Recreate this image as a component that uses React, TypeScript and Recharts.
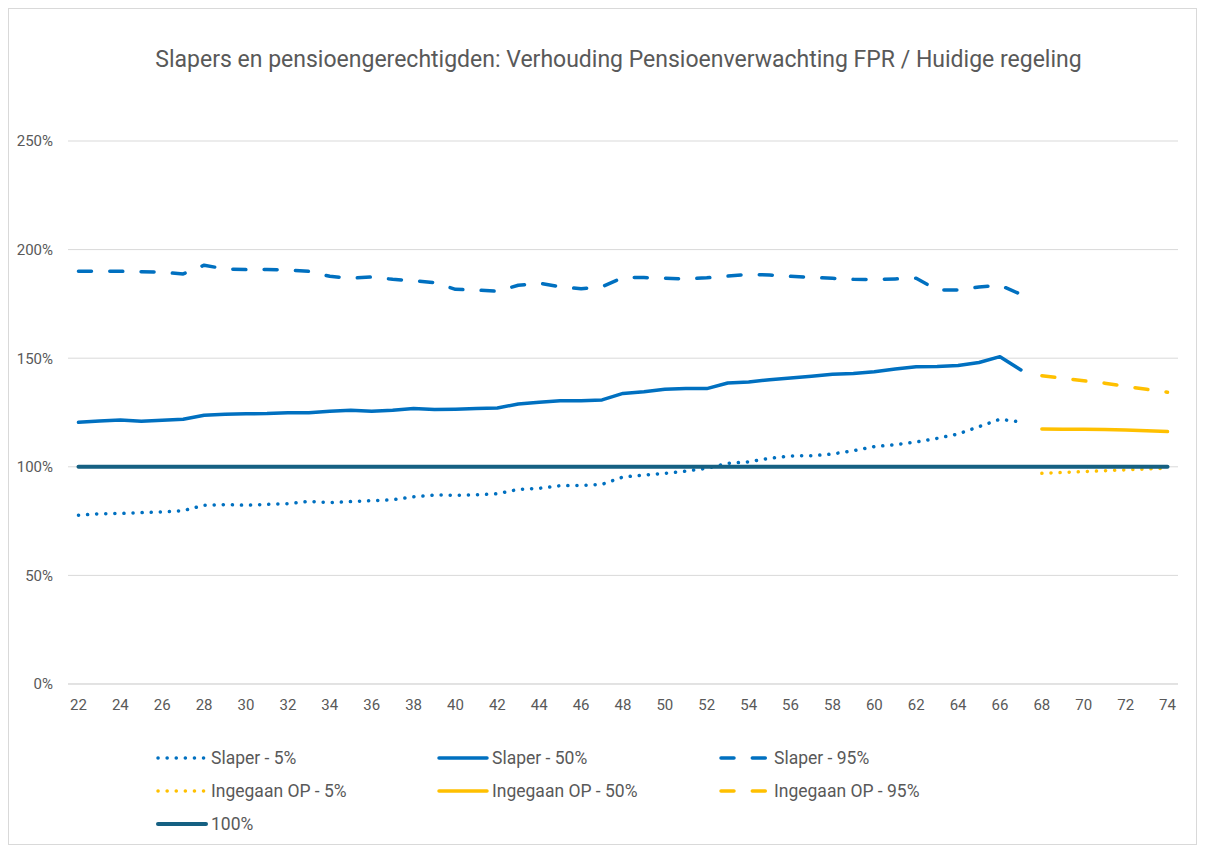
import React from "react";
import { LineChart, Line, XAxis, YAxis, CartesianGrid, Legend } from "recharts";

const ages: number[] = [];
for (let a = 22; a <= 74; a++) ages.push(a);

const slaperAges = [22,23,24,25,26,27,28,29,30,31,32,33,34,35,36,37,38,39,40,41,42,43,44,45,46,47,48,49,50,51,52,53,54,55,56,57,58,59,60,61,62,63,64,65,66,67];
const slaper5 = [77.7,78.4,78.5,78.9,79.2,79.8,82.3,82.6,82.3,82.7,83.0,84.1,83.5,84.0,84.4,84.8,86.2,87.0,86.9,87.1,87.6,89.6,90.1,91.3,91.4,91.9,95.3,96.2,97.0,98.0,99.3,101.6,102.3,103.9,105.0,105.1,105.9,107.4,109.3,110.2,111.4,113.1,115.1,118.5,121.9,120.6];
const slaper50 = [120.5,121.1,121.5,121.0,121.4,121.9,123.7,124.2,124.4,124.5,124.9,124.9,125.6,126.0,125.6,126.0,126.8,126.4,126.5,126.8,127.1,128.9,129.7,130.4,130.4,130.8,133.8,134.6,135.7,136.0,136.0,138.6,139.0,140.1,140.9,141.7,142.6,143.0,143.8,145.0,146.1,146.2,146.6,148.0,150.7,144.6];
const slaper95 = [190.0,190.0,190.0,189.8,189.6,188.8,192.8,191.1,190.8,190.8,190.6,190.0,187.7,186.8,187.4,186.3,185.7,184.8,181.7,181.4,180.8,183.6,184.5,182.9,182.0,182.9,187.1,187.1,186.8,186.5,187.0,187.8,188.6,188.3,187.7,187.2,186.8,186.3,186.2,186.5,186.8,181.4,181.4,182.8,183.6,179.4];

const opAges = [68,69,70,71,72,73,74];
const op5 = [97.0,97.4,97.8,98.2,98.6,99.0,99.3];
const op50 = [117.4,117.3,117.3,117.2,117.0,116.6,116.2];
const op95 = [141.9,140.8,139.6,138.5,137.0,135.7,134.3];

const xTicks = [22,24,26,28,30,32,34,36,38,40,42,44,46,48,50,52,54,56,58,60,62,64,66,68,70,72,74];
const yTicks = [0,50,100,150,200,250];

const title = "Slapers en pensioengerechtigden: Verhouding Pensioenverwachting FPR / Huidige regeling";

const BLUE = "#0070C0";
const YELLOW = "#FFC000";
const TEAL = "#156082";
const DOT = "0.1 9";
const DASH = "13 18.3";

const series = [
  { key: "s5", name: "Slaper - 5%", color: BLUE, dash: DOT },
  { key: "s50", name: "Slaper - 50%", color: BLUE, dash: undefined },
  { key: "s95", name: "Slaper - 95%", color: BLUE, dash: DASH },
  { key: "o5", name: "Ingegaan OP - 5%", color: YELLOW, dash: DOT },
  { key: "o50", name: "Ingegaan OP - 50%", color: YELLOW, dash: undefined },
  { key: "o95", name: "Ingegaan OP - 95%", color: YELLOW, dash: DASH },
  { key: "h", name: "100%", color: TEAL, dash: undefined },
];

const data = ages.map((age) => {
  const si = slaperAges.indexOf(age);
  const oi = opAges.indexOf(age);
  return {
    age,
    s5: si >= 0 ? slaper5[si] : null,
    s50: si >= 0 ? slaper50[si] : null,
    s95: si >= 0 ? slaper95[si] : null,
    o5: oi >= 0 ? op5[oi] : null,
    o50: oi >= 0 ? op50[oi] : null,
    o95: oi >= 0 ? op95[oi] : null,
    h: 100,
  };
});

const FONT = "Roboto, 'Open Sans', sans-serif";
const TXT = "#595959";

const renderLegend = () => (
  <div style={{ position: "relative", width: 1187, height: 0, overflow: "visible", fontFamily: FONT, fontSize: 17.5, color: TXT }}>
    {series.map((s, i) => {
      const col = i % 3;
      const row = Math.floor(i / 3);
      const left = [146, 427, 709][col];
      const top = row * 33;
      return (
        <div key={s.key} style={{ position: "absolute", left, top, display: "flex", alignItems: "center", whiteSpace: "nowrap", height: 22 }}>
          <svg width={54} height={10} style={{ marginRight: 2 }}>
            <line x1={3} y1={5} x2={51} y2={5} stroke={s.color} strokeWidth={s.key === "h" ? 4 : 3.5} strokeDasharray={s.dash} strokeLinecap="round" />
          </svg>
          <span>{s.name}</span>
        </div>
      );
    })}
  </div>
);

export default function App() {
  return (
    <div style={{ position: "relative", width: 1187, height: 835, border: "1px solid #d9d9d9", background: "#fff" }}>
      <div style={{ position: "absolute", top: 37, left: 16, width: 1187, textAlign: "center", fontFamily: FONT, fontSize: 23, color: TXT, whiteSpace: "nowrap" }}>
        {title}
      </div>
      <LineChart width={1187} height={835} data={data} margin={{ top: 132, right: 18, bottom: 130, left: 0 }}>
        <CartesianGrid vertical={false} stroke="#d9d9d9" strokeWidth={1} />
        <XAxis
          dataKey="age"
          type="number"
          domain={[21.5, 74.5]}
          ticks={xTicks}
          allowDataOverflow
          height={30}
          tickLine={false}
          axisLine={{ stroke: "#d9d9d9" }}
          tickMargin={9}
          tick={{ fill: TXT, fontSize: 15, fontFamily: FONT }}
          interval={0}
        />
        <YAxis
          width={59}
          domain={[0, 250]}
          ticks={yTicks}
          axisLine={false}
          tickLine={false}
          tickMargin={9}
          tickFormatter={(v: number) => `${v}%`}
          tick={{ fill: TXT, fontSize: 15, fontFamily: FONT }}
        />
        <Legend
          content={renderLegend}
          wrapperStyle={{ position: "absolute", left: 0, top: 738, width: 1187, height: 0 }}
        />
        {series.map((s) => (
          <Line
            key={s.key}
            dataKey={s.key}
            name={s.name}
            stroke={s.color}
            strokeWidth={s.key === "h" ? 4 : 3.5}
            strokeDasharray={s.dash}
            strokeLinecap="round"
            strokeLinejoin="round"
            dot={false}
            activeDot={false}
            isAnimationActive={false}
            connectNulls={false}
            type="linear"
          />
        ))}
      </LineChart>
    </div>
  );
}
